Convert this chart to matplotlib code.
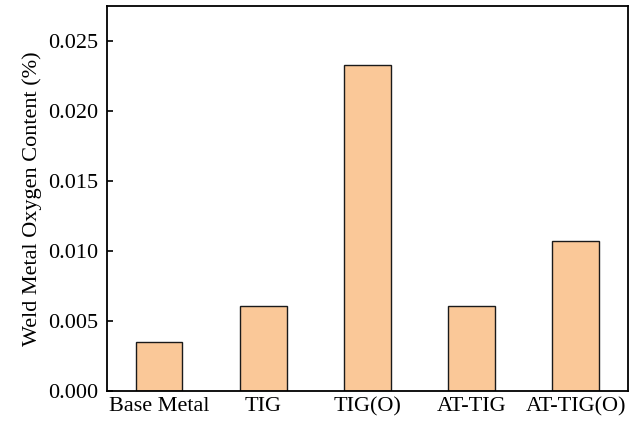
import matplotlib
matplotlib.use('Agg')
import matplotlib.pyplot as plt

plt.rcParams['font.family'] = ['Liberation Serif', 'DejaVu Serif']

# Oxygen content measured in the weld metal for each process
processes = ['Base Metal', 'TIG', 'TIG(O)', 'AT-TIG', 'AT-TIG(O)']
oxygen = [0.0035, 0.0061, 0.0233, 0.0061, 0.0107]
yticks = [0.000, 0.005, 0.010, 0.015, 0.020, 0.025]

fig = plt.figure(figsize=(6.44, 4.22), dpi=100)
ax = fig.add_axes([0.166, 0.073, 0.809, 0.913])

x = range(len(processes))
ax.bar(x, oxygen, width=0.45, color='#FAC898', edgecolor='#1a1a1a', linewidth=1.0)

ax.set_xlim(-0.5, len(processes) - 0.5)
ax.set_ylim(0, 0.0275)
ax.set_xticks(list(x))
ax.set_xticklabels(processes, fontsize=16)
ax.set_yticks(yticks)
ax.set_yticklabels(['%.3f' % v for v in yticks], fontsize=16)
ax.tick_params(axis='x', length=0, pad=4)
ax.tick_params(axis='y', direction='in', length=4.5, width=1.2, pad=6)
ax.set_ylabel('Weld Metal Oxygen Content (%)', fontsize=16, labelpad=5)

for side in ['left', 'bottom', 'top', 'right']:
    ax.spines[side].set_linewidth(1.3)

fig.savefig('out.png', dpi=100)
